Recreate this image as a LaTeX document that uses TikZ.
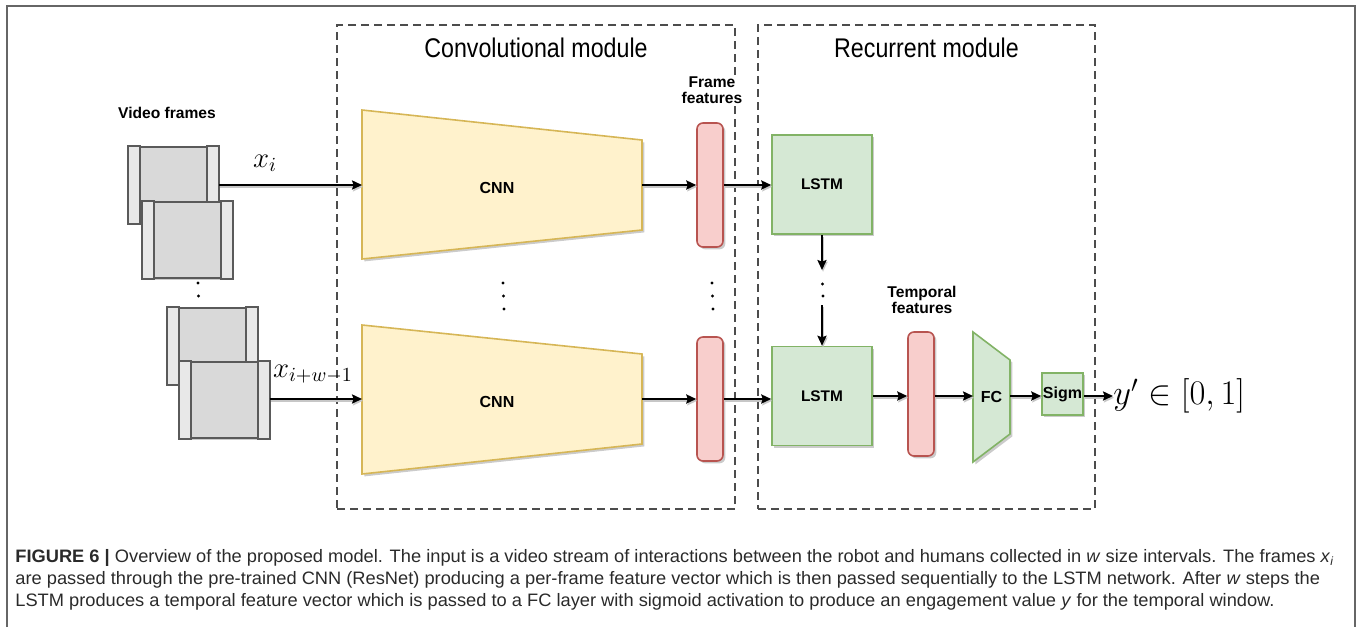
\documentclass[tikz,border=0pt]{standalone}
\usepackage{fontspec}
\setmainfont{Liberation Sans}
\newfontfamily\narrowfont[FakeStretch=0.86]{Liberation Sans}
\newfontfamily\capfont[FakeStretch=1.015]{Liberation Sans}
\usetikzlibrary{arrows.meta,shadows}
\definecolor{cnnfill}{HTML}{FFF2CC}
\definecolor{cnndraw}{HTML}{D6B656}
\definecolor{redfill}{HTML}{F8CECC}
\definecolor{reddraw}{HTML}{B85450}
\definecolor{grnfill}{HTML}{D5E8D4}
\definecolor{grndraw}{HTML}{82B366}
\definecolor{framefill}{HTML}{D9D9D9}
\definecolor{stripfill}{HTML}{E8E8E8}
\definecolor{framedraw}{HTML}{5A5A5A}
\definecolor{captext}{HTML}{2A2A2A}
\begin{document}
\begin{tikzpicture}[x=0.5pt,y=-0.5pt,
  sh/.style={drop shadow={shadow xshift=1.2pt,shadow yshift=-1.2pt,fill=black!45,opacity=.45}},
  arr/.style={-{Stealth[length=5pt,width=4.6pt,inset=0.8pt]},line width=0.9pt,
    preaction={draw=black!22,line width=0.9pt,transform canvas={xshift=0.5pt,yshift=-0.9pt}}},
  framebox/.style={draw=framedraw,line width=1pt,fill=framefill,minimum width=44.5pt,minimum height=38pt,inner sep=0pt,sh},
  strip/.style={draw=framedraw,line width=1pt,fill=stripfill},
  bar/.style={draw=reddraw,fill=redfill,line width=0.8pt,rounded corners=3pt,minimum width=13pt,minimum height=62pt,inner sep=0pt,sh},
  lstm/.style={draw=grndraw,fill=grnfill,line width=0.8pt,minimum width=50pt,minimum height=49.5pt,inner sep=0pt,sh,font=\bfseries\fontsize{7.7pt}{9pt}\selectfont},
  cnnshape/.style={draw=cnndraw,fill=cnnfill,line width=0.8pt,sh},
  boldlbl/.style={font=\bfseries\fontsize{7.8pt}{8.2pt}\selectfont,align=center,inner sep=0.6pt},
  modbox/.style={draw=black!70,line width=0.7pt,dash pattern=on 4pt off 2.5pt,inner sep=0pt},
  modtitle/.style={font=\narrowfont\fontsize{13.5pt}{16pt}\selectfont,inner sep=0pt},
  mathlbl/.style={inner sep=0pt,font=\fontsize{14pt}{16pt}\selectfont},
  dot/.style={fill=black,circle,inner sep=0pt,minimum size=1.6pt},
  capline/.style={anchor=west,inner sep=0pt,text=captext,font=\capfont\fontsize{9pt}{10pt}\selectfont}
]
\useasboundingbox (0,0) rectangle (1360,627);
% outer frame
\draw[black!60,line width=1pt] (7,627) -- (7,6) -- (1355,6) -- (1355,627);

% module boxes
\node[modbox,minimum width=199pt,minimum height=242pt] (conv) at (536,267) {};
\node[modbox,minimum width=168.5pt,minimum height=242pt] (rec) at (926.5,267) {};
\node[modtitle] (convt) at (536,48) {Convolutional module};
\node[modtitle] (rect) at (926.5,48) {Recurrent module};

% video frames
\node[boldlbl] (vf) at (167,113) {Video frames};
\node[framebox] (fA) at (173.5,185) {};
\draw[strip] (fA.north west) rectangle ([xshift=6pt]fA.south west);
\draw[strip] ([xshift=-6pt]fA.north east) rectangle (fA.south east);
\node[framebox] (fB) at (187,240) {};
\draw[strip] (fB.north west) rectangle ([xshift=6pt]fB.south west);
\draw[strip] ([xshift=-6pt]fB.north east) rectangle (fB.south east);
\node[dot] (d1a) at (198,283) {};
\node[dot] (d1b) at (198.5,296) {};
\node[dot] (d1c) at (199,309) {};
\node[framebox] (fC) at (212,346) {};
\draw[strip] (fC.north west) rectangle ([xshift=6pt]fC.south west);
\draw[strip] ([xshift=-6pt]fC.north east) rectangle (fC.south east);
\node[framebox] (fD) at (224,400) {};
\draw[strip] (fD.north west) rectangle ([xshift=6pt]fD.south west);
\draw[strip] ([xshift=-6pt]fD.north east) rectangle (fD.south east);

% CNNs
\draw[cnnshape] (362,110) -- (642,140) -- (642,230) -- (362,259) -- cycle;
\node[font=\bfseries\fontsize{8pt}{9pt}\selectfont] (cnn1) at (497,188) {CNN};
\coordinate (cnn1w) at (362,185);
\coordinate (cnn1e) at (642,185);
\draw[cnnshape] (362,325) -- (642,354) -- (642,444) -- (362,474) -- cycle;
\node[font=\bfseries\fontsize{8pt}{9pt}\selectfont] (cnn2) at (497,402) {CNN};
\coordinate (cnn2w) at (362,399);
\coordinate (cnn2e) at (642,399);
\node[dot] (d2a) at (503,283) {};
\node[dot] (d2b) at (503.5,296) {};
\node[dot] (d2c) at (504,309) {};

% inputs
\draw[arr] (fA.east) -- (cnn1w);
\node[mathlbl] (xi) at (265,163) {$x_i$};
\draw[arr] (fD.east |- cnn2w) -- (cnn2w);
\node[mathlbl] (xw) at (313,374) {$x_{i+w-1}$};

% frame features
\node[boldlbl,fill=white] (fft) at (712,90) {Frame\\features};
\node[bar] (b1) at (710,185) {};
\node[bar] (b2) at (710,399) {};
\node[dot] (d3a) at (712,283) {};
\node[dot] (d3b) at (712.5,296) {};
\node[dot] (d3c) at (713,309) {};
\draw[arr] (cnn1e) -- (b1.west);
\draw[arr] (cnn2e) -- (b2.west);

% LSTMs
\node[lstm] (l1) at (822,184.5) {LSTM};
\node[lstm] (l2) at (822,396) {LSTM};
\draw[arr] (b1.east) -- (b1.east -| l1.west);
\draw[arr] (b2.east) -- (b2.east -| l2.west);
\coordinate (l1d) at (822,270);
\coordinate (l2u) at (822,305);
\draw[arr] (l1.south) -- (l1d);
\node[dot] (d4a) at (822.5,284) {};
\node[dot] (d4b) at (823,296) {};
\draw[arr] (l2u) -- (l2.north);

% temporal
\node[boldlbl] (tft) at (922,300) {Temporal\\features};
\node[bar] (tb) at (921,394) {};
\draw[cnnshape,draw=grndraw,fill=grnfill] (973,332) -- (1010,360) -- (1010,434) -- (973,462) -- cycle;
\node[font=\bfseries\fontsize{8pt}{9pt}\selectfont] (fc) at (991.5,397) {FC};
\coordinate (fcw) at (973,396);
\coordinate (fce) at (1010,396);
\node[lstm,minimum width=20.5pt,minimum height=21pt,font=\bfseries\fontsize{8pt}{9pt}\selectfont] (sg) at (1062.5,394) {Sigm};
\node[inner sep=0pt,anchor=west,font=\fontsize{17pt}{19pt}\selectfont] (out) at (1113,396) {$y'\in[0,1]$};
\draw[arr] (l2.east |- fcw) -- (tb.west |- fcw);
\draw[arr] (tb.east |- fcw) -- (fcw);
\draw[arr] (fce) -- (sg.west |- fce);
\draw[arr] (sg.east |- fce) -- (out.west |- fce);

% caption
\node[capline] (c1) at (15,558) {\textbf{FIGURE 6 |} Overview of the proposed model. The input is a video stream of interactions between the robot and humans collected in \textit{w} size intervals. The frames \textit{x}\textsubscript{\textit{i}}};
\node[capline] (c2) at (15,580) {are passed through the pre-trained CNN (ResNet) producing a per-frame feature vector which is then passed sequentially to the LSTM network. After \textit{w} steps the};
\node[capline] (c3) at (15,602) {LSTM produces a temporal feature vector which is passed to a FC layer with sigmoid activation to produce an engagement value \textit{y} for the temporal window.};
\end{tikzpicture}
\end{document}
